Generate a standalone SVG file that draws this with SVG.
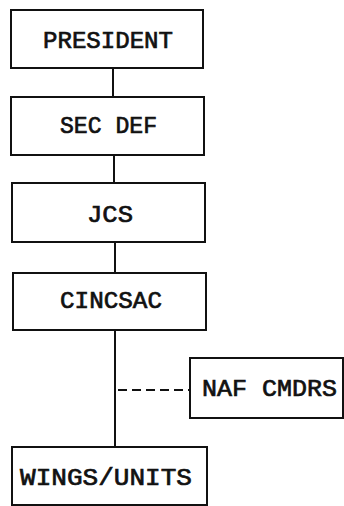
<svg xmlns="http://www.w3.org/2000/svg" width="344" height="506" viewBox="0 0 344 506">
<style>
.box{fill:#fff;stroke:#111;stroke-width:2}
.t{font-family:"Liberation Mono","Courier New",monospace;font-size:24px;fill:#111;stroke:#111;stroke-width:0.7}
.ln{stroke:#111;stroke-width:2;fill:none}
.dash{stroke:#111;stroke-width:2;stroke-dasharray:9,5;fill:none}
</style>
<rect width="344" height="506" fill="#fff"/>
<g id="connectors">
<line class="ln" x1="113" y1="68" x2="113" y2="97"/>
<line class="ln" x1="114" y1="155" x2="114" y2="183"/>
<line class="ln" x1="115" y1="242" x2="115" y2="273"/>
<line class="ln" x1="115" y1="330" x2="115" y2="447"/>
<line class="dash" x1="118" y1="390" x2="190" y2="390"/>
</g>
<g id="president">
<rect class="box" x="11" y="10" width="192" height="58"/>
<text class="t" x="43" y="48" textLength="130" lengthAdjust="spacingAndGlyphs">PRESIDENT</text>
</g>
<g id="secdef">
<rect class="box" x="11" y="97" width="193" height="58"/>
<text class="t" x="60" y="133" textLength="97" lengthAdjust="spacingAndGlyphs">SEC DEF</text>
</g>
<g id="jcs">
<rect class="box" x="12" y="183" width="193" height="59"/>
<text class="t" x="87" y="222" textLength="46" lengthAdjust="spacingAndGlyphs">JCS</text>
</g>
<g id="cincsac">
<rect class="box" x="13" y="273" width="193" height="57"/>
<text class="t" x="60" y="308" textLength="102" lengthAdjust="spacingAndGlyphs">CINCSAC</text>
</g>
<g id="nafcmdrs">
<rect class="box" x="190" y="358" width="153" height="60"/>
<text class="t" x="202" y="396" textLength="135" lengthAdjust="spacingAndGlyphs">NAF CMDRS</text>
</g>
<g id="wings">
<rect class="box" x="12" y="447" width="195" height="58"/>
<text class="t" x="20" y="485" textLength="172" lengthAdjust="spacingAndGlyphs">WINGS/UNITS</text>
</g>
</svg>
